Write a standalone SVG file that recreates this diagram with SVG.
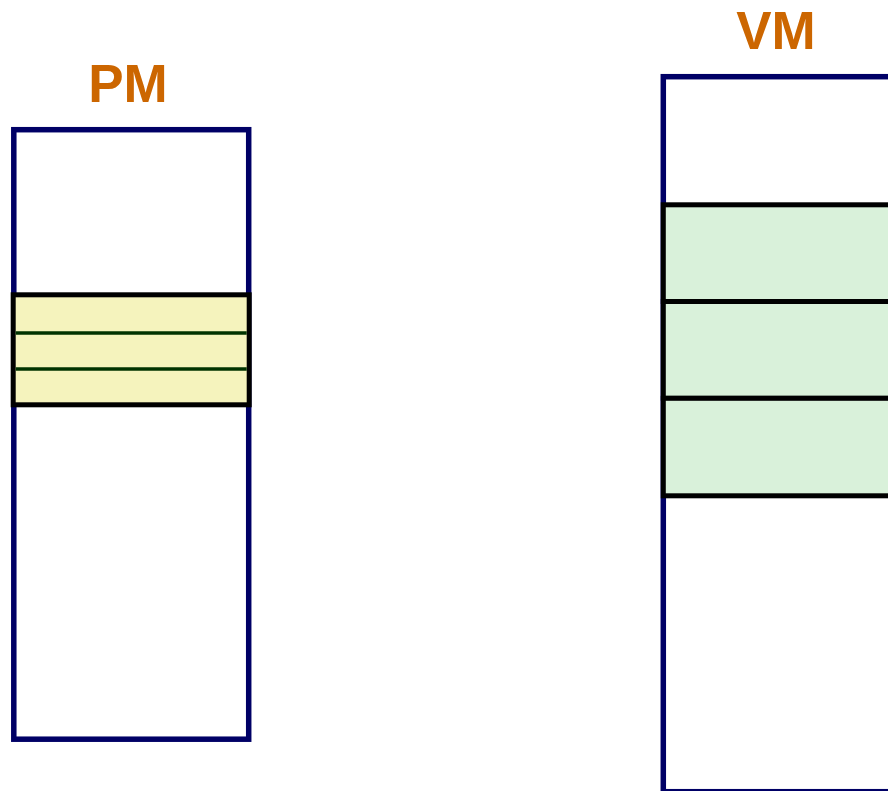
<svg xmlns="http://www.w3.org/2000/svg" width="888" height="791" viewBox="0 0 888 791">
<style>
.lbl{font-family:"Liberation Sans",Arial,sans-serif;font-weight:bold;font-size:53px;fill:#cc6600;text-anchor:middle}
.mem{fill:#ffffff;stroke:#000066;stroke-width:5.5}
.blk{stroke:#000000;stroke-width:5}
.sep{stroke:#003300;stroke-width:3.5}
</style>
<rect width="888" height="791" fill="#ffffff"/>
<g id="pm">
<rect class="mem" x="13.8" y="129.7" width="234.9" height="609.5"/>
<text class="lbl" x="128" y="101.5">PM</text>
</g>
<g id="pm-pages">
<rect class="blk" x="13.2" y="294.8" width="236" height="110" fill="#f5f3bd"/>
<line class="sep" x1="15.7" y1="333" x2="246.7" y2="333"/>
<line class="sep" x1="15.7" y1="369" x2="246.7" y2="369"/>
</g>
<g id="vm">
<rect class="mem" x="663.3" y="76.7" width="260" height="715"/>
<text class="lbl" x="776" y="49.3">VM</text>
</g>
<g id="vm-pages">
<rect class="blk" x="663.3" y="204.8" width="260" height="96.7" fill="#d9f1da"/>
<rect class="blk" x="663.3" y="301.5" width="260" height="96.8" fill="#d9f1da"/>
<rect class="blk" x="663.3" y="398.3" width="260" height="97.5" fill="#d9f1da"/>
</g>
<g id="connectors"></g>
</svg>
